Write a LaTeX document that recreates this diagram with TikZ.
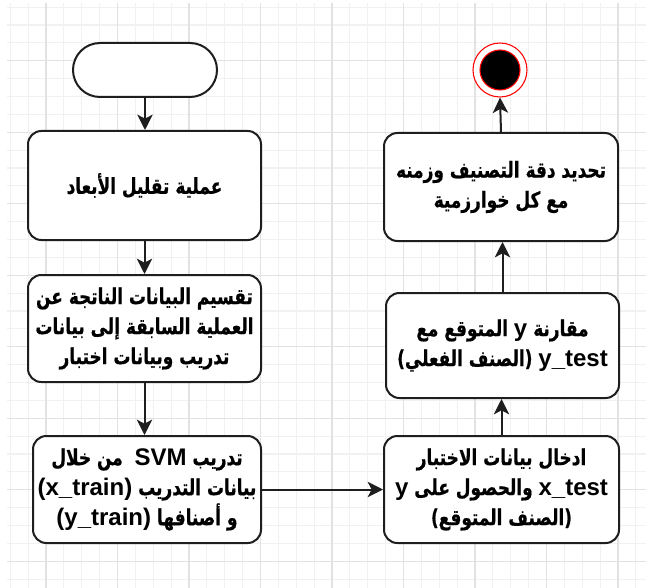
\documentclass[tikz,border=0pt]{standalone}
\usepackage{fontspec}
\setmainfont{Liberation Sans}
\newfontfamily\arabicfont[Script=Arabic,FakeStretch=0.77,FakeBold=0.6]{DejaVu Sans}
\newfontfamily\latinfont{Liberation Sans}
\TeXXeTstate=1
\usetikzlibrary{arrows.meta}
% Latin run inside right-to-left text
\newcommand\lat[1]{\beginL{\latinfont\bfseries\fontsize{18}{22.5}\selectfont #1}\endL{}}
\definecolor{gridminor}{HTML}{F1F1F1}
\definecolor{gridmajor}{HTML}{E2E2E2}
\definecolor{ink}{HTML}{1E1E1E}
\tikzset{
  x=0.75pt, y=-0.75pt,
  minorgrid/.style={draw=gridminor, line width=0.8pt},
  majorgrid/.style={draw=gridmajor, line width=0.8pt},
  stepbox/.style={draw=ink, line width=1.5pt, rounded corners=10pt, fill=white,
    align=center, inner sep=0pt,
    font=\arabicfont\bfseries\fontsize{16.5}{22.5}\selectfont},
  flow/.style={draw=ink, line width=1.5pt, -{Stealth[length=11.5pt,width=11.5pt,inset=3pt]}},
}
\begin{document}
\begin{tikzpicture}
\useasboundingbox (0,0) rectangle (646,588);
\fill[white] (0,0) rectangle (646,588);
% background grid
\foreach \i in {0,...,35}{
  \pgfmathsetmacro\gx{10.25+17.875*\i}
  \draw[minorgrid] (\gx,3) -- (\gx,588);
}
\foreach \j in {0,...,32}{
  \pgfmathsetmacro\gy{7.1+17.875*\j}
  \draw[minorgrid] (7,\gy) -- (646,\gy);
}
\foreach \i in {0,...,8}{
  \pgfmathsetmacro\gx{46+71.5*\i}
  \draw[majorgrid] (\gx,3) -- (\gx,588);
}
\foreach \j in {0,...,7}{
  \pgfmathsetmacro\gy{60.7+71.5*\j}
  \draw[majorgrid] (7,\gy) -- (646,\gy);
}

% start terminator
\node[draw=ink, line width=1.5pt, fill=white, rounded corners=20.25pt,
  minimum width=108pt, minimum height=40.5pt, inner sep=0pt] (start) at (145,70) {};

% left column
\node[stepbox, minimum width=174.75pt, minimum height=81.75pt] (b1) at (144.5,185.5)
  {\beginR عملية تقليل الأبعاد\endR};
\node[stepbox, minimum width=174.75pt, minimum height=80.25pt] (b2) at (144.5,328.5)
  {\beginR تقسيم البيانات الناتجة عن\endR\\
   \beginR العملية السابقة إلى بيانات\endR\\
   \beginR تدريب وبيانات اختبار\endR};
\node[stepbox, minimum width=171pt, minimum height=80.25pt] (b3) at (147,489.5)
  {\beginR تدريب \lat{SVM}\ \ من خلال\endR\\
   \beginR بيانات التدريب \lat{(x\_train)}\endR\\
   \beginR و أصنافها \lat{(y\_train)}\endR};

% right column
\node[stepbox, minimum width=176.25pt, minimum height=80.25pt] (b4) at (501.5,489.5)
  {\beginR ادخال بيانات الاختبار\endR\\
   \beginR \lat{x\_test} والحصول على \lat{y}\endR\\
   \beginR (الصنف المتوقع)\endR};
\node[stepbox, minimum width=174.75pt, minimum height=78.75pt] (b5) at (502.5,345.5)
  {\beginR مقارنة \lat{y} المتوقع مع\endR\\
   \beginR \lat{y\_test} (الصنف الفعلي)\endR};
\node[stepbox, minimum width=175.5pt, minimum height=81pt] (b6) at (501,187)
  {\beginR تحديد دقة التصنيف وزمنه\endR\\
   \beginR مع كل خوارزمية\endR};

% end state
\node[circle, draw=red, line width=0.8pt, fill=white, minimum size=40.5pt, inner sep=0pt] (end) at (500,70) {};
\node[circle, draw=red, line width=0.8pt, fill=black, minimum size=30pt, inner sep=0pt] (endcore) at (end.center) {};

% connectors
\draw[flow] (start.south) -- (start.south |- b1.north);
\draw[flow] (b1.south) -- (b1.south |- b2.north);
\draw[flow] (b2.south) -- (b2.south |- b3.north);
\draw[flow] (b3.east) -- (b4.west);
\draw[flow] (b4.north) -- (b4.north |- b5.south);
\draw[flow] (b5.north) -- (b5.north |- b6.south);
\draw[flow] (b6.north) -- (end.south);
\end{tikzpicture}
\end{document}
